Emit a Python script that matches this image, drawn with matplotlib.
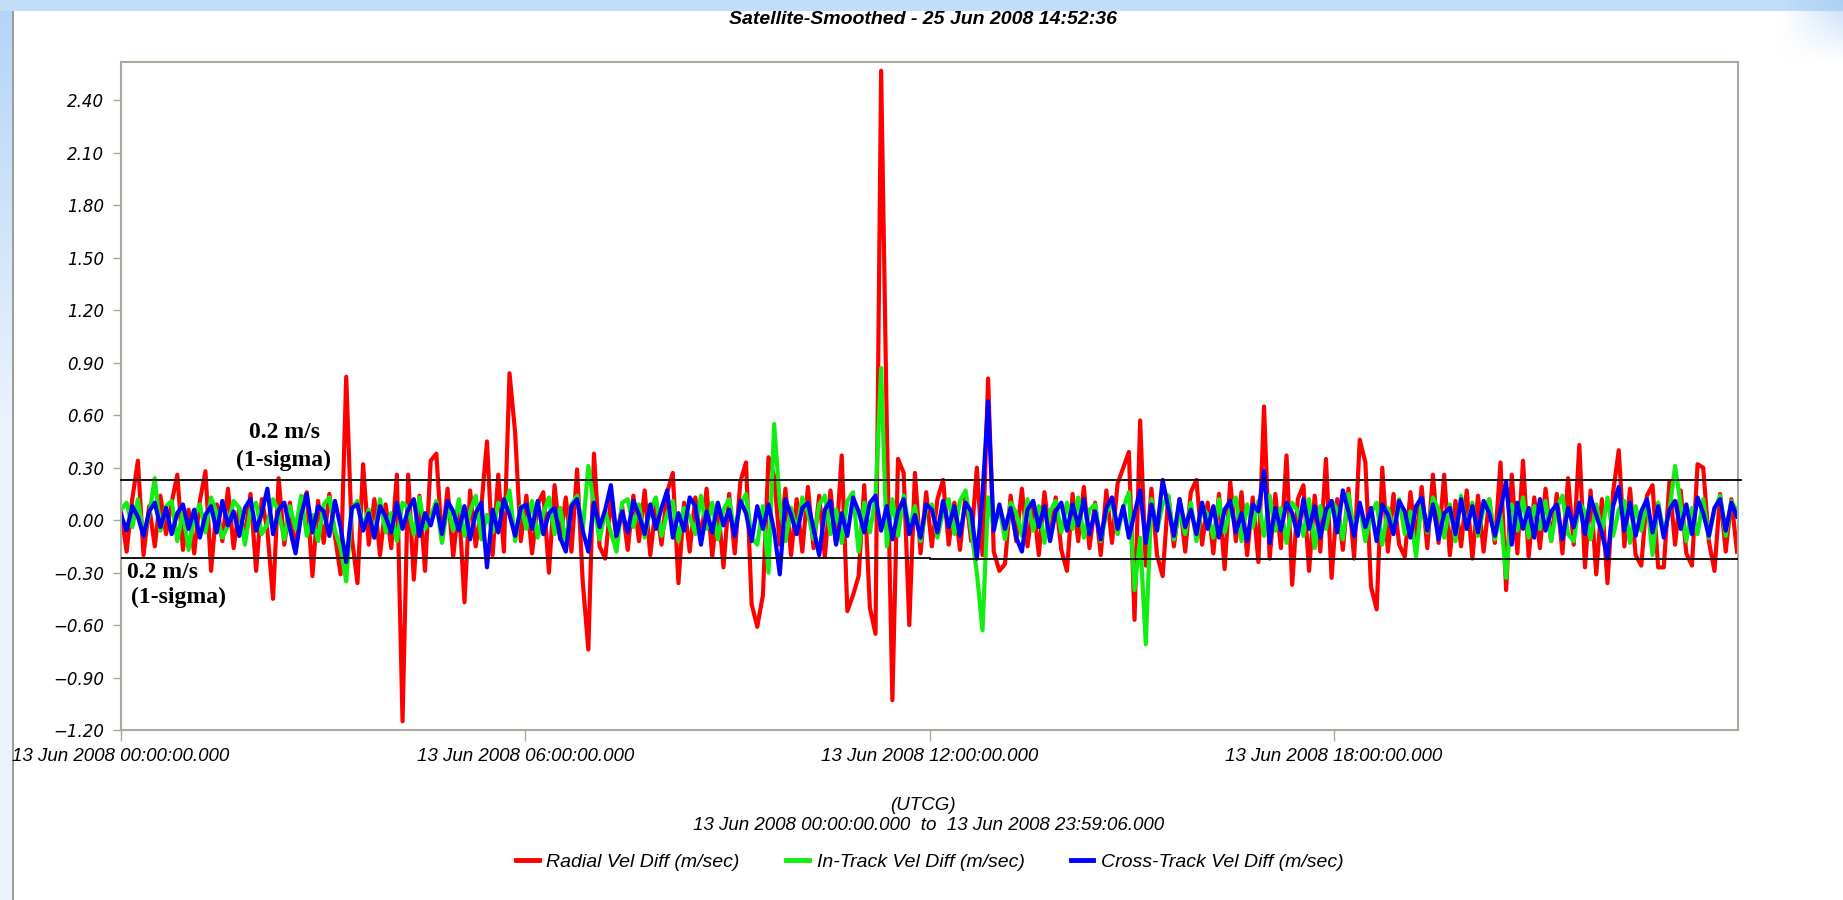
import numpy as np
import matplotlib
matplotlib.use("Agg")
import matplotlib.pyplot as plt

# values (m/sec), one value every 5 minutes, one row per hour
radial = [
    0.05, -0.18, 0.12, 0.34, -0.20, 0.08, -0.15, 0.14, -0.08, 0.10, 0.26, -0.17,
    0.06, -0.19, 0.11, 0.28, -0.29, 0.09, -0.12, 0.18, -0.16, 0.07, -0.10, 0.15,
    -0.29, 0.12, -0.06, -0.45, 0.24, -0.14, 0.10, -0.18, 0.08, 0.16, -0.32, 0.11,
    -0.13, 0.15, -0.09, -0.31, 0.82, -0.10, -0.36, 0.32, -0.14, 0.12, -0.20, 0.09,
    -0.16, 0.26, -1.15, 0.26, -0.34, 0.14, -0.29, 0.34, 0.38, -0.12, 0.18, -0.21,
    0.10, -0.47, 0.17, -0.15, 0.08, 0.45, -0.20, 0.26, -0.18, 0.84, 0.50, -0.12,
    0.14, -0.19, 0.09, 0.16, -0.30, 0.20, -0.11, 0.13, -0.18, 0.29, -0.35, -0.74,
    0.38, -0.15, -0.22, 0.12, -0.10, 0.08, -0.17, 0.14, -0.12, 0.17, -0.20, 0.09,
    -0.14, 0.16, 0.27, -0.36, 0.10, -0.18, 0.13, -0.12, 0.18, -0.21, 0.09, -0.27,
    0.15, -0.19, 0.22, 0.33, -0.48, -0.61, -0.43, 0.36, 0.25, -0.14, 0.18, -0.20,
    0.12, -0.18, 0.19, -0.16, 0.14, -0.21, 0.17, -0.13, 0.37, -0.52, -0.43, -0.32,
    0.20, -0.50, -0.65, 2.57, 0.55, -1.03, 0.35, 0.27, -0.60, 0.27, -0.19, 0.16,
    -0.15, 0.12, 0.23, -0.14, 0.10, -0.17, 0.15, -0.12, 0.30, -0.20, 0.81, -0.18,
    -0.29, -0.25, 0.14, -0.12, 0.18, -0.15, 0.11, -0.20, 0.16, -0.10, 0.13, -0.17,
    -0.29, 0.15, -0.12, 0.19, -0.16, 0.10, -0.20, 0.17, -0.13, 0.21, 0.30, 0.39,
    -0.57, 0.57, -0.26, 0.18, -0.20, -0.32, 0.14, -0.15, 0.12, -0.18, 0.16, 0.23,
    -0.14, 0.10, -0.19, 0.15, -0.28, 0.22, -0.12, 0.16, -0.20, 0.13, -0.24, 0.65,
    -0.22, 0.15, -0.16, 0.37, -0.37, 0.12, 0.20, -0.29, 0.14, -0.18, 0.35, -0.33,
    0.12, -0.17, 0.18, -0.22, 0.46, 0.33, -0.38, -0.51, 0.30, -0.18, 0.15, -0.14,
    -0.21, 0.16, -0.12, 0.19, -0.16, 0.26, -0.13, 0.26, -0.20, 0.11, -0.15, 0.17,
    -0.22, 0.14, -0.18, 0.12, -0.13, 0.33, -0.40, 0.26, -0.19, 0.34, -0.21, 0.13,
    -0.16, 0.18, -0.12, 0.15, -0.19, 0.24, -0.14, 0.43, -0.27, 0.17, -0.31, 0.12,
    -0.36, 0.16, 0.40, -0.15, 0.18, -0.20, -0.26, 0.14, 0.20, -0.27, -0.27, 0.22,
    -0.14, 0.17, -0.19, -0.26, 0.32, 0.30, -0.12, -0.29, 0.15, -0.18, 0.12, -0.18,
]

in_track = [
    0.06, 0.10, -0.04, 0.12, -0.09, 0.03, 0.24, -0.06, 0.08, 0.11, -0.12, 0.05,
    -0.17, 0.02, 0.09, -0.07, 0.13, 0.04, -0.10, -0.03, 0.11, 0.07, -0.14, 0.06,
    0.10, -0.08, -0.02, 0.12, 0.05, -0.11, 0.08, -0.05, 0.14, -0.09, 0.03, -0.12,
    0.09, 0.13, -0.06, -0.16, -0.35, 0.07, 0.11, -0.04, 0.06, -0.10, 0.12, -0.07,
    0.04, -0.12, 0.10, 0.07, -0.08, 0.13, -0.05, 0.02, 0.11, -0.13, 0.08, -0.06,
    0.12, -0.09, 0.05, 0.14, -0.11, 0.03, -0.07, 0.10, 0.06, 0.17, -0.12, 0.08,
    -0.05, 0.11, -0.10, 0.04, 0.13, -0.08, 0.07, -0.13, 0.09, 0.14, -0.06, 0.31,
    0.08, -0.11, 0.05, -0.07, -0.18, 0.10, 0.12, -0.04, 0.09, -0.10, 0.06, 0.13,
    -0.09, 0.04, 0.11, -0.12, 0.07, 0.02, -0.08, 0.14, -0.05, 0.10, -0.11, 0.06,
    0.12, -0.07, 0.09, 0.15, -0.10, -0.14, 0.08, -0.30, 0.55, 0.10, -0.12, 0.07,
    -0.06, 0.13, 0.04, -0.11, 0.09, 0.14, -0.08, 0.06, -0.13, 0.11, 0.16, -0.18,
    0.10, -0.07, 0.13, 0.87, -0.15, 0.12, -0.09, 0.14, -0.05, 0.08, -0.12, 0.06,
    0.09, -0.10, 0.05, 0.12, -0.08, 0.11, 0.17, -0.06, -0.30, -0.63, 0.13, -0.04,
    0.07, -0.11, 0.10, 0.04, -0.09, 0.12, -0.06, 0.08, -0.13, 0.05, 0.11, -0.07,
    0.10, -0.05, 0.13, -0.10, 0.06, 0.09, -0.12, 0.04, 0.11, -0.08, 0.07, 0.16,
    -0.40, -0.10, -0.71, 0.12, -0.06, 0.09, 0.14, -0.11, 0.05, -0.08, 0.10, -0.12,
    0.08, 0.03, -0.10, 0.12, -0.07, 0.06, 0.13, -0.12, 0.09, -0.04, 0.11, -0.09,
    0.14, -0.06, 0.07, -0.13, 0.10, 0.05, -0.09, 0.12, -0.16, 0.08, -0.05, 0.11,
    0.06, -0.11, 0.15, -0.07, 0.09, -0.12, 0.04, 0.10, -0.14, 0.07, -0.06, 0.12,
    -0.08, 0.05, -0.21, 0.11, -0.07, 0.13, 0.06, -0.10, 0.09, -0.12, 0.14, -0.05,
    0.10, -0.09, 0.07, 0.12, -0.11, 0.04, -0.33, 0.09, -0.06, 0.13, -0.10, 0.08,
    -0.05, 0.11, -0.12, 0.07, 0.14, -0.08, -0.12, 0.10, 0.05, -0.11, 0.09, -0.07,
    0.13, -0.09, 0.06, 0.11, -0.13, 0.08, -0.06, 0.12, -0.20, 0.10, -0.07, 0.05,
    0.31, 0.09, -0.12, 0.07, -0.08, 0.12, -0.10, 0.06, 0.14, -0.09, 0.11, 0.05,
]

cross_track = [
    0.03, -0.06, 0.08, 0.02, -0.09, 0.05, 0.10, -0.04, 0.07, -0.08, 0.04, 0.09,
    -0.05, 0.06, -0.10, 0.03, 0.08, -0.07, 0.11, -0.03, 0.05, -0.09, 0.07, 0.12,
    -0.06, 0.04, 0.18, -0.08, 0.06, 0.10, -0.05, -0.19, 0.03, 0.15, -0.07, 0.08,
    0.05, -0.09, 0.11, -0.04, -0.24, 0.07, 0.09, -0.06, 0.04, -0.10, 0.08, 0.02,
    -0.07, 0.10, -0.05, 0.06, 0.12, -0.09, 0.04, -0.03, 0.09, -0.08, 0.11, 0.05,
    -0.06, 0.08, -0.11, 0.04, 0.10, -0.27, 0.06, -0.07, 0.12, 0.03, -0.09, 0.07,
    0.09, -0.05, 0.11, -0.08, 0.04, 0.07, -0.10, -0.18, 0.08, 0.12, -0.06, -0.18,
    0.10, -0.04, 0.06, 0.20, -0.09, 0.05, -0.07, 0.11, 0.03, -0.08, 0.09, -0.05,
    0.07, 0.17, -0.10, 0.04, -0.06, 0.13, 0.08, -0.14, 0.05, -0.07, 0.10, -0.03,
    0.06, -0.09, 0.11, 0.04, -0.12, 0.08, -0.05, 0.09, -0.06, -0.31, 0.12, 0.03,
    -0.08, 0.07, 0.10, -0.05, -0.20, 0.06, 0.11, -0.14, 0.04, -0.09, 0.13, 0.05,
    -0.07, 0.10, 0.14, -0.06, 0.08, -0.11, 0.05, 0.12, -0.08, 0.03, -0.10, 0.09,
    0.06, -0.07, 0.11, -0.04, 0.08, -0.09, 0.10, 0.05, -0.22, 0.14, 0.68, -0.06,
    0.09, -0.05, 0.07, -0.10, -0.18, 0.06, 0.11, -0.04, 0.08, -0.12, 0.05, 0.10,
    -0.06, 0.09, -0.03, 0.12, -0.08, 0.05, -0.11, 0.07, 0.13, -0.05, 0.08, -0.10,
    0.04, 0.17, -0.13, 0.09, -0.06, 0.23, 0.07, -0.09, 0.12, -0.04, 0.06, -0.08,
    0.10, -0.05, 0.08, -0.10, 0.06, 0.11, -0.07, 0.04, -0.12, 0.09, 0.05, 0.28,
    -0.13, 0.07, -0.06, 0.10, 0.04, -0.09, 0.12, -0.05, 0.08, -0.10, 0.06, 0.11,
    -0.07, 0.17, 0.05, -0.09, 0.10, -0.04, 0.07, -0.12, 0.09, 0.03, -0.08, 0.11,
    0.05, -0.10, 0.08, 0.13, -0.06, 0.09, -0.11, 0.04, 0.07, -0.08, 0.12, -0.05,
    0.08, -0.07, 0.11, 0.04, -0.09, 0.06, 0.22, -0.14, 0.10, -0.05, 0.07, -0.10,
    0.12, -0.06, 0.05, 0.09, -0.11, 0.07, -0.04, 0.10, -0.08, 0.13, 0.03, -0.07,
    -0.22, 0.08, 0.19, -0.06, 0.10, -0.09, 0.05, 0.12, -0.07, 0.08, -0.10, 0.06,
    0.11, -0.05, 0.09, -0.08, 0.13, 0.04, -0.09, 0.07, 0.12, -0.06, 0.10, 0.02,
]

series_names = ["Radial Vel Diff (m/sec)", "In-Track Vel Diff (m/sec)", "Cross-Track Vel Diff (m/sec)"]
series_colors = ["#ff0000", "#11ee11", "#0000ff"]

end_hour = 23.985  # 23:59:06
sigma_upper = 0.23
sigma_lower_am = -0.215
sigma_lower_pm = -0.222

x_ticks = [0, 6, 12, 18]
x_labels = ["13 Jun 2008 00:00:00.000", "13 Jun 2008 06:00:00.000",
            "13 Jun 2008 12:00:00.000", "13 Jun 2008 18:00:00.000"]
y_ticks = np.arange(-1.2, 2.41, 0.3)

title = "Satellite-Smoothed - 25 Jun 2008 14:52:36"
span_text = "13 Jun 2008 00:00:00.000  to  13 Jun 2008 23:59:06.000"

W, H = 1843, 900
fig = plt.figure(figsize=(W / 100, H / 100), dpi=100, facecolor="white")

# window chrome around the panel
bg = np.ones((H, W, 3))
fade = np.clip(np.arange(H) / 420.0, 0, 1)[:, None]
bg[:, :12] = (np.array([0.70, 0.83, 0.97]) * (1 - fade) + np.array([0.92, 0.95, 0.99]) * fade)[:, None, :]
bg[:11, :] = [0.76, 0.87, 0.97]
side = np.clip((np.arange(W) - 1780) / 60.0, 0, 1)[None, :] * np.clip(1 - np.arange(H) / 60.0, 0, 1)[:, None]
side = side[:, :, None] * 0.6
bg = bg * (1 - side) + np.array([0.62, 0.78, 0.95]) * side
bg[11:, 12:14] = [0.62, 0.62, 0.60]
bax = fig.add_axes([0, 0, 1, 1], zorder=-5)
bax.imshow(bg, aspect="auto", interpolation="nearest")
bax.axis("off")

ax = fig.add_axes([121 / W, 1 - 730 / H, (1738 - 121) / W, (730 - 62) / H])
ax.set_facecolor("white")

for vals, name, col in zip([radial, in_track, cross_track], series_names, series_colors):
    t = np.linspace(0, end_hour, len(vals))
    ax.plot(t, vals, color=col, lw=3.0, label=name)

ax.plot([0, 24.05], [sigma_upper, sigma_upper], color="black", lw=1.3, zorder=5, clip_on=False)
ax.plot([0, 12], [sigma_lower_am, sigma_lower_am], color="black", lw=1.3, zorder=5)
ax.plot([12, 24], [sigma_lower_pm, sigma_lower_pm], color="black", lw=1.3, zorder=5)

ann = dict(fontsize=17, fontweight="bold", family="Liberation Serif", ha="center", va="center", zorder=6)
ax.text(2.43, 0.50, "0.2 m/s", **ann)
ax.text(2.41, 0.34, "(1-sigma)", **ann)
ax.text(0.62, -0.30, "0.2 m/s", **ann)
ax.text(0.86, -0.44, "(1-sigma)", **ann)

ax.set_xlim(0, 24)
ax.set_ylim(-1.2, 2.62)
ax.set_xticks(x_ticks)
ax.set_xticklabels(x_labels, fontsize=13.5, style="italic", family="Liberation Sans")
ax.set_yticks(y_ticks)
ax.set_yticklabels([f"{v:.2f}".replace("-0.00", "0.00").replace("-", "\u2212") for v in y_ticks],
                   fontsize=12, style="italic", family="DejaVu Sans")
ax.tick_params(axis="x", length=8, width=1, color="#a8a89c", pad=5)
ax.tick_params(axis="y", length=6, width=1, color="#a8a89c", pad=6)
for s in ax.spines.values():
    s.set_color("#a8a89c")
    s.set_linewidth(1.5)

txt = dict(ha="center", va="center", style="italic", family="Liberation Sans")
fig.text(923 / W, 1 - 20 / H, title, fontsize=14, fontweight="bold", **txt)
fig.text(923 / W, 1 - 805 / H, "(UTCG)", fontsize=13.5, **txt)
fig.text(929 / W, 1 - 826 / H, span_text, fontsize=13.5, **txt)

leg = fig.legend(loc="center", bbox_to_anchor=(930 / W, 1 - 862 / H), ncol=3, frameon=False,
                 handlelength=1.15, handletextpad=0.4, columnspacing=2.4,
                 prop={"family": "Liberation Sans", "style": "italic", "size": 14})
for line in leg.get_lines():
    line.set_linewidth(3.5)

fig.savefig("out.png", dpi=100, facecolor="white")
